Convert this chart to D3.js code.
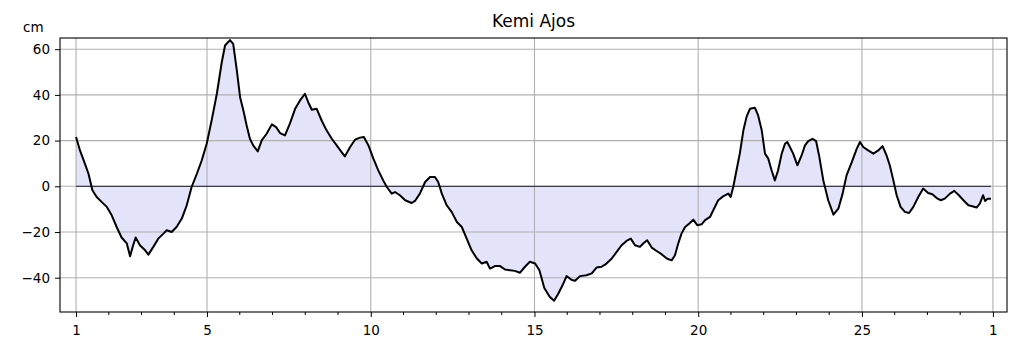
<!DOCTYPE html>
<html>
<head>
<meta charset="utf-8">
<script src="https://cdn.jsdelivr.net/npm/d3@7"></script>
<style>
  body { margin: 0; background: #fff; }
  .chart { width: 1019px; height: 352px; }
  .chart text { font-family: "DejaVu Sans", sans-serif; fill: #000; }
</style>
</head>
<body>
<div class="chart"></div>
<script>
// ----------------------------------
// DATA
// ----------------------------------

const title = 'Kemi Ajos';
const unitLabel = 'cm';

// days since the 1st of the month, 00:00
const days = [
  0.00, 0.12, 0.27, 0.38, 0.50, 0.63, 0.78, 0.94, 1.09, 1.24, 1.39, 1.55, 1.65, 1.73, 1.82, 1.95,
  2.11, 2.21, 2.36, 2.51, 2.67, 2.77, 2.92, 3.07, 3.23, 3.38, 3.53, 3.69, 3.84, 3.99, 4.14, 4.30,
  4.45, 4.55, 4.70, 4.80, 4.91, 5.01, 5.11, 5.21, 5.31, 5.41, 5.55, 5.67, 5.82, 5.98, 6.11, 6.23,
  6.38, 6.53, 6.69, 6.84, 6.99, 7.09, 7.20, 7.35, 7.50, 7.65, 7.81, 7.96, 8.11, 8.21, 8.37, 8.52,
  8.67, 8.79, 8.93, 9.08, 9.23, 9.38, 9.49, 9.64, 9.74, 9.89, 10.05, 10.25, 10.35, 10.50, 10.66, 10.81,
  10.96, 11.06, 11.17, 11.32, 11.47, 11.63, 11.78, 11.93, 12.08, 12.24, 12.39, 12.54, 12.64, 12.79, 12.95, 13.10,
  13.25, 13.40, 13.56, 13.71, 13.86, 14.02, 14.15, 14.30, 14.47, 14.60, 14.73, 14.86, 14.98, 15.14, 15.24, 15.39,
  15.59, 15.75, 15.90, 16.05, 16.20, 16.36, 16.51, 16.66, 16.81, 16.94, 17.07, 17.22, 17.32, 17.44, 17.58, 17.73,
  17.88, 18.04, 18.19, 18.29, 18.39, 18.49, 18.60, 18.73, 18.85, 18.97, 19.11, 19.21, 19.36, 19.46, 19.61, 19.76,
  19.92, 19.99, 20.07, 20.17, 20.27, 20.38, 20.48, 20.58, 20.73, 20.83, 20.94, 21.04, 21.14, 21.24, 21.34, 21.44,
  21.55, 21.65, 21.72, 21.80, 21.90, 22.03, 22.16, 22.26, 22.36, 22.49, 22.60, 22.70, 22.82, 22.97, 23.13, 23.28,
  23.41, 23.53, 23.69, 23.84, 23.94, 24.04, 24.19, 24.35, 24.50, 24.63, 24.75, 24.85, 24.96, 25.06, 25.18, 25.31,
  25.44, 25.57, 25.72, 25.87, 26.02, 26.15, 26.31, 26.41, 26.53, 26.69, 26.82, 26.96, 27.10, 27.25, 27.37, 27.50,
  27.60, 27.70, 27.76, 27.84, 27.94
];

// sea level, cm
const levels = [
  21.6, 15.7, 9.9, 5.5, -1.7, -4.7, -6.8, -9.0, -12.7, -17.8, -22.4, -25.0, -30.6, -26.5, -22.4, -25.8,
  -28.0, -29.9, -26.5, -22.9, -20.7, -19.2, -20.0, -17.8, -14.1, -8.3, -0.3, 5.5, 11.4, 18.6, 28.8, 40.5,
  54.3, 61.6, 64.0, 62.3, 50.7, 39.0, 33.2, 26.6, 20.8, 17.9, 15.3, 20.1, 23.0, 27.1, 25.9, 23.3,
  22.3, 27.4, 33.9, 37.6, 40.5, 36.8, 33.5, 33.9, 28.8, 24.5, 20.8, 17.9, 15.0, 13.1, 17.2, 20.4,
  21.3, 21.6, 17.9, 12.1, 7.0, 2.6, -0.3, -3.2, -2.5, -3.9, -6.1, -7.3, -6.4, -3.2, 1.9, 4.1,
  4.1, 1.9, -3.2, -8.3, -11.2, -15.6, -17.8, -22.9, -28.0, -31.6, -33.8, -33.0, -36.0, -34.9, -34.9, -36.4,
  -36.7, -37.0, -37.8, -35.2, -33.0, -33.8, -36.7, -44.5, -48.4, -50.1, -46.9, -43.2, -39.3, -41.0, -41.3, -39.3,
  -38.9, -38.1, -35.5, -35.2, -33.8, -31.6, -28.7, -25.8, -23.9, -22.9, -25.8, -26.5, -25.0, -23.6, -26.8, -28.3,
  -29.7, -31.6, -32.4, -30.2, -25.0, -20.7, -17.8, -16.3, -14.6, -17.0, -16.6, -14.8, -13.4, -10.5, -6.1, -4.4,
  -3.2, -4.7, -0.3, 7.0, 14.3, 24.5, 30.6, 33.9, 34.4, 31.0, 24.5, 14.3, 12.1, 7.0, 2.6, 7.0,
  14.3, 18.6, 19.4, 17.2, 14.3, 9.2, 13.6, 17.9, 19.8, 20.8, 19.8, 12.8, 2.6, -6.1, -12.4, -9.8,
  -3.2, 4.8, 10.6, 16.4, 19.4, 17.2, 15.7, 14.3, 15.7, 17.6, 13.6, 9.2, 2.6, -3.9, -9.0, -11.2,
  -11.7, -9.0, -4.7, -1.0, -2.9, -3.5, -5.4, -6.1, -5.4, -3.2, -2.0, -3.9, -6.1, -8.3, -8.7, -9.3,
  -7.6, -3.9, -6.4, -5.4, -5.4
];

const xTickDays = [0, 4, 9, 14, 19, 24, 28];
const xTickLabels = ['1', '5', '10', '15', '20', '25', '1'];
const yTicks = [-40, -20, 0, 20, 40, 60];

const data = days.map((d, i) => ({ day: d, level: levels[i] }));

// ----------------------------------
// CONTAINER + SCALES
// ----------------------------------

const width = 1019,
      height = 352,
      margin = { top: 38, right: 12, bottom: 40, left: 60 },
      innerWidth = width - margin.left - margin.right,
      innerHeight = height - margin.top - margin.bottom;

const xScale = d3.scaleLinear()
  .domain([-0.49, 28.43])
  .range([0, innerWidth]);

const yScale = d3.scaleLinear()
  .domain([-55, 64.9])
  .range([innerHeight, 0]);

const svg = d3.select('.chart')
  .append('svg')
  .attr('width', width)
  .attr('height', height);

const chartInner = svg.append('g')
  .attr('transform', `translate(${margin.left},${margin.top})`);

// ----------------------------------
// FILL, GRID, LINES
// ----------------------------------

const area = d3.area()
  .x(d => xScale(d.day))
  .y0(yScale(0))
  .y1(d => yScale(d.level));

chartInner.append('path')
  .datum(data)
  .attr('d', area)
  .attr('fill', '#e3e3fa');

const grid = chartInner.append('g')
  .attr('stroke', '#b0b0b0')
  .attr('stroke-width', 1.1);

grid.selectAll('.vgrid')
  .data(xTickDays)
  .enter()
  .append('line')
  .attr('x1', d => xScale(d))
  .attr('x2', d => xScale(d))
  .attr('y1', 0)
  .attr('y2', innerHeight);

grid.selectAll('.hgrid')
  .data(yTicks)
  .enter()
  .append('line')
  .attr('x1', 0)
  .attr('x2', innerWidth)
  .attr('y1', d => yScale(d))
  .attr('y2', d => yScale(d));

// zero reference, only across the data range
chartInner.append('line')
  .attr('x1', xScale(days[0]))
  .attr('x2', xScale(days[days.length - 1]))
  .attr('y1', yScale(0))
  .attr('y2', yScale(0))
  .attr('stroke', '#1a1a2e')
  .attr('stroke-width', 1);

const line = d3.line()
  .x(d => xScale(d.day))
  .y(d => yScale(d.level));

chartInner.append('path')
  .datum(data)
  .attr('d', line)
  .attr('fill', 'none')
  .attr('stroke', '#000')
  .attr('stroke-width', 2)
  .attr('stroke-linejoin', 'round');

// ----------------------------------
// AXES
// ----------------------------------

const xAxis = d3.axisBottom(xScale)
  .tickValues(xTickDays)
  .tickFormat((d, i) => xTickLabels[i])
  .tickSize(5)
  .tickPadding(8);

const xAxisG = chartInner.append('g')
  .attr('transform', `translate(0,${innerHeight})`)
  .call(xAxis);

// minor ticks, one per day
xAxisG.selectAll('.minor')
  .data(d3.range(0, 29).filter(d => !xTickDays.includes(d)))
  .enter()
  .append('line')
  .attr('x1', d => xScale(d))
  .attr('x2', d => xScale(d))
  .attr('y1', 0)
  .attr('y2', 3)
  .attr('stroke', '#000');

const yAxis = d3.axisLeft(yScale)
  .tickValues(yTicks)
  .tickSize(5)
  .tickPadding(5);

const yAxisG = chartInner.append('g').call(yAxis);

[xAxisG, yAxisG].forEach(g => {
  g.select('.domain').remove();
  g.selectAll('.tick text').style('font-size', '13.5px').attr('fill', '#000');
  g.selectAll('line').attr('stroke-width', 1);
});

// frame
chartInner.append('rect')
  .attr('x', 0)
  .attr('y', 0)
  .attr('width', innerWidth)
  .attr('height', innerHeight)
  .attr('fill', 'none')
  .attr('stroke', '#000')
  .attr('stroke-width', 1.1);

// ----------------------------------
// LABELS
// ----------------------------------

svg.append('text')
  .text(title)
  .attr('x', margin.left + innerWidth / 2)
  .attr('y', 27)
  .attr('text-anchor', 'middle')
  .style('font-size', '17px');

svg.append('text')
  .text(unitLabel)
  .attr('x', 23)
  .attr('y', 32)
  .style('font-size', '13.5px');
</script>
</body>
</html>
